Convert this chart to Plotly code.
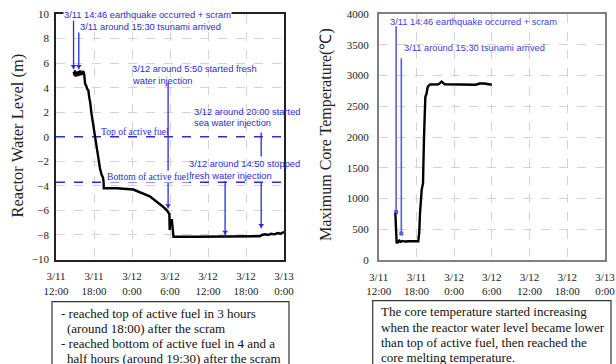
import plotly.graph_objects as go

W, H = 616, 364

# ---------------- data (hours after 3/11 12:00) ----------------
tick_hours = [0, 6, 12, 18, 24, 30, 36]
tick_labels = ["3/11<br>12:00", "3/11<br>18:00", "3/12<br>0:00", "3/12<br>6:00",
               "3/12<br>12:00", "3/12<br>18:00", "3/13<br>0:00"]

level_t = [2.8, 2.9, 3.0, 3.1, 3.2, 3.3, 3.4, 3.5, 3.6, 3.7, 3.8, 3.9, 4.0, 4.15, 4.3, 4.45,
           4.6, 4.75, 4.9, 5.1, 5.25, 5.4, 5.6, 5.9, 6.15, 6.4, 6.7, 6.95, 7.2, 7.4, 7.5, 7.55,
           9.6, 12.2, 14.8, 16.0, 16.9, 17.5, 17.9, 17.95, 18.05, 18.3, 18.4, 18.55,
           22.0, 26.0, 28.0, 30.0, 32.2, 32.5, 33.0, 33.5, 34.0, 34.5, 35.0, 35.5, 36.0]
level_m = [5.3, 5.0, 5.4, 4.9, 5.2, 5.0, 5.3, 4.95, 5.35, 5.1, 5.4, 5.0, 5.3, 5.2, 5.35, 5.1,
           4.3, 4.2, 3.9, 3.8, 3.2, 2.8, 1.9, 0.9, 0.0, -1.0, -1.9, -2.6, -3.1, -3.3, -3.6, -4.2,
           -4.2, -4.3, -4.85, -5.3, -5.7, -6.0, -6.3, -7.6, -6.8, -6.8, -7.6, -8.15,
           -8.15, -8.15, -8.1, -8.12, -8.1, -8.0, -7.95, -8.0, -7.9, -7.95, -7.85, -7.9, -7.75]

temp_t = [2.65, 2.75, 2.86, 2.95, 3.1, 3.3, 3.5, 3.8, 4.2, 4.8, 5.5, 6.3, 6.45, 6.57, 6.84,
          7.05, 7.1, 7.12, 7.2, 7.26, 7.35, 7.42, 7.6, 7.8, 8.16, 9.5, 9.8, 10.0, 10.5,
          11.8, 15.4, 16.1, 16.8, 18.0]
temp_c = [760, 500, 270, 310, 290, 315, 295, 310, 300, 305, 300, 305, 450, 760, 1140,
          1250, 1500, 1900, 1950, 2160, 2500, 2650, 2700, 2815, 2853, 2857, 2880, 2900, 2857,
          2855, 2850, 2870, 2870, 2850]

top_fuel = 0.0
bottom_fuel = -3.7

# event times
quake_t, tsunami_t = 2.77, 3.6
fresh_start_t, fresh_stop_t, sea_start_t = 17.7, 26.7, 32.4

BLUE = "#2b2bdc"
BLUE2 = "#5a5ae6"
SERIF = "Liberation Serif"
SANS = "Liberation Sans"


def px(x):
    return x / W


def py(y):
    return 1 - y / H


fig = go.Figure()

# reference lines (left)
for yv in (top_fuel, bottom_fuel):
    fig.add_trace(go.Scatter(x=[0, 36], y=[yv, yv], mode="lines",
                             line=dict(color=BLUE, width=1.5, dash="dash"),
                             xaxis="x", yaxis="y", hoverinfo="skip"))

# event lines (left)
left_events = [
    (quake_t, [9.5, 5.5]),
    (tsunami_t, [8.5, 5.5]),
    (fresh_start_t, [4.4, -5.85]),
    (fresh_stop_t, [-3.6, -8.0]),
]
for t, (y0, y1) in left_events:
    fig.add_trace(go.Scatter(x=[t, t], y=[y0, y1], mode="lines",
                             line=dict(color=BLUE, width=1.3),
                             xaxis="x", yaxis="y", hoverinfo="skip"))
    fig.add_trace(go.Scatter(x=[t], y=[y1 + 0.25], mode="markers",
                             marker=dict(symbol="triangle-down", size=5, color=BLUE),
                             xaxis="x", yaxis="y", hoverinfo="skip"))
fig.add_trace(go.Scatter(x=[sea_start_t, sea_start_t, None, sea_start_t, sea_start_t],
                         y=[0.35, -1.6, None, -3.7, -7.45], mode="lines",
                         line=dict(color=BLUE, width=1.3),
                         xaxis="x", yaxis="y", hoverinfo="skip"))
fig.add_trace(go.Scatter(x=[sea_start_t], y=[-7.2], mode="markers",
                         marker=dict(symbol="triangle-down", size=5, color=BLUE),
                         xaxis="x", yaxis="y", hoverinfo="skip"))

# water level
fig.add_trace(go.Scatter(x=level_t, y=level_m, mode="lines",
                         line=dict(color="black", width=2.4),
                         xaxis="x", yaxis="y"))

# event lines (right)
for t, (y0, y1) in [(quake_t, (3800, 780)), (tsunami_t, (3280, 430))]:
    fig.add_trace(go.Scatter(x=[t, t], y=[y0, y1], mode="lines",
                             line=dict(color=BLUE2, width=1.6),
                             xaxis="x2", yaxis="y2", hoverinfo="skip"))
    fig.add_trace(go.Scatter(x=[t], y=[y1], mode="markers",
                             marker=dict(symbol="square", size=4, color=BLUE2),
                             xaxis="x2", yaxis="y2", hoverinfo="skip"))

# temperature
fig.add_trace(go.Scatter(x=temp_t, y=temp_c, mode="lines",
                         line=dict(color="black", width=2.4),
                         xaxis="x2", yaxis="y2"))

tickfont = dict(family=SERIF, size=11, color="#222")
common_x = dict(range=[0, 36], tickvals=tick_hours, ticktext=tick_labels, automargin=False,
                showgrid=True, gridcolor="#d4d4d4", griddash="dash", gridwidth=1,
                zeroline=False, showline=True, mirror=True, ticks="outside",
                ticklen=6, tickcolor="rgba(0,0,0,0)", tickfont=tickfont)
ydom = [py(259.5), py(14)]

fig.update_layout(
    template="none",
    width=W, height=H, autosize=False,
    margin=dict(l=0, r=0, t=0, b=0, pad=0),
    paper_bgcolor="white", plot_bgcolor="white",
    showlegend=False,
    xaxis=dict(domain=[px(56), px(284)], anchor="y", linecolor="#222", linewidth=1.5, **common_x),
    yaxis=dict(domain=ydom, anchor="x", range=[-10, 10], dtick=2, automargin=False,
               showgrid=True, gridcolor="#d4d4d4", griddash="dash", zeroline=False,
               showline=True, mirror=True, linecolor="#222", linewidth=1.5,
               ticks="outside", ticklen=3, tickcolor="rgba(0,0,0,0)", tickfont=tickfont),
    xaxis2=dict(domain=[px(378.7), px(605)], anchor="y2", linecolor="#808080", linewidth=1.5, **common_x),
    yaxis2=dict(domain=[py(260), py(14)], anchor="x2", range=[0, 4000], dtick=500, automargin=False,
                showgrid=True, gridcolor="#d4d4d4", griddash="dash", zeroline=False,
                showline=True, mirror=True, linecolor="#808080", linewidth=1.5,
                ticks="outside", ticklen=6, tickcolor="rgba(0,0,0,0)", tickfont=tickfont),
)

ann = []


def label(x, y, text, color=BLUE, family=SANS, size=9.3, bg=None):
    d = dict(x=px(x), y=py(y), xref="paper", yref="paper", text=text, showarrow=False,
             xanchor="left", yanchor="middle", font=dict(family=family, size=size, color=color),
             borderpad=0)
    if bg:
        d["bgcolor"] = bg
    ann.append(d)


# left labels
label(62.5, 14.7, "3/11 14:46 earthquake occurred + scram", bg="white")
label(79, 26.7, "3/11 around 15:30 tsunami arrived")
label(130.5, 69.3, "3/12 around 5:50 started fresh")
label(130.5, 80.5, "water injection")
label(192.5, 111.7, "3/12 around 20:00 started")
label(192.5, 123.3, "sea water injection")
label(188, 164, "3/12 around 14:50 stopped")
label(188, 175.5, "fresh water injection")
label(100, 131, "Top of active fuel", family=SERIF, size=9.6)
label(105.5, 176, "Bottom of active fuel", family=SERIF, size=9.6, bg="white")

# right labels
label(388.5, 21.7, "3/11 14:46 earthquake occurred + scram", color="#4040d8")
label(402.5, 48.3, "3/11 around 15:30 tsunami arrived", color="#4040d8")

# axis titles
ann.append(dict(x=px(17), y=py(135.5), xref="paper", yref="paper", text="Reactor Water Level (m)",
                showarrow=False, textangle=-90, xanchor="center", yanchor="middle",
                font=dict(family=SERIF, size=16.5, color="#222")))
ann.append(dict(x=px(325.5), y=py(134.5), xref="paper", yref="paper", text="Maximum Core Temperature(℃)",
                showarrow=False, textangle=-90, xanchor="center", yanchor="middle",
                font=dict(family=SERIF, size=16, color="#222")))

# text boxes
box_lines_left = [
    (60, 313, "- reached top of active fuel in 3 hours"),
    (66, 328.3, "(around 18:00) after the scram"),
    (60, 343.6, "- reached bottom of active fuel in 4 and a"),
    (66, 358.6, "half hours (around 19:30) after the scram"),
]
box_lines_right = [
    (380, 311.7, "The core temperature started increasing"),
    (380, 327.0, "when the reactor water level became lower"),
    (380, 342.3, "than top of active fuel, then reached the"),
    (380, 357.6, "core melting temperature."),
]
for x, y, t in box_lines_left + box_lines_right:
    label(x, y, t, color="#111", family=SERIF, size=13)

fig.update_layout(annotations=ann)

fig.add_shape(type="rect", xref="paper", yref="paper", x0=px(52), x1=px(289),
              y0=py(380), y1=py(301.7), line=dict(color="#333", width=1.2))
fig.add_shape(type="rect", xref="paper", yref="paper", x0=px(372.7), x1=px(611),
              y0=py(380), y1=py(300.7), line=dict(color="#333", width=1.2))

fig.write_html("out.html",
               config={"displayModeBar": False},
               post_script="document.body.style.margin='0';document.body.style.padding='0';"
                           "document.body.style.overflow='hidden';")
